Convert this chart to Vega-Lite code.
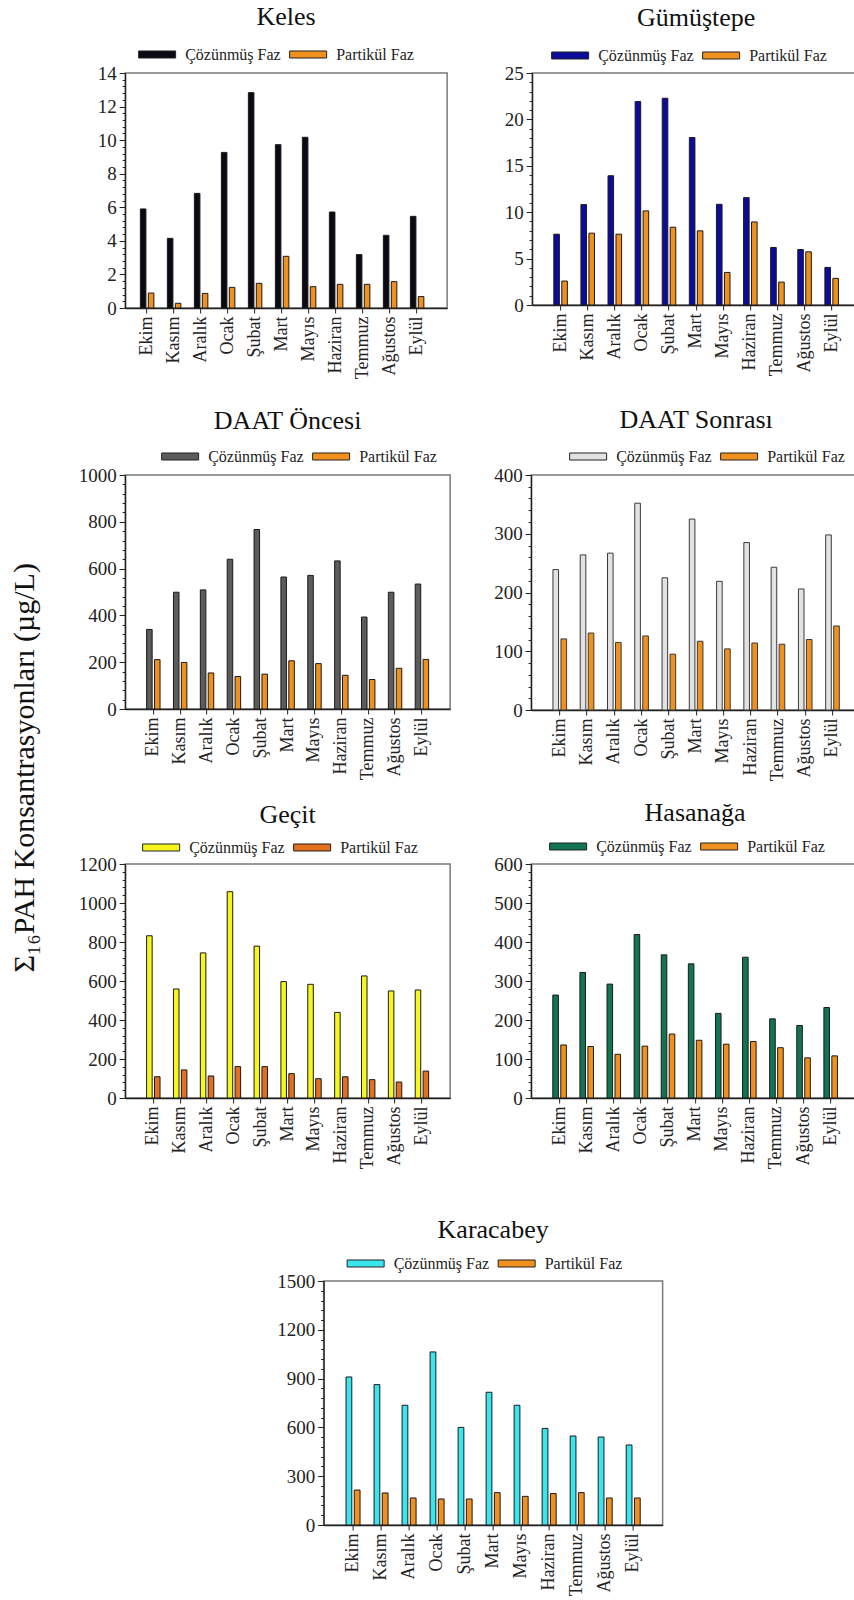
{
  "$schema": "https://vega.github.io/schema/vega-lite/v6.json",
  "background": "white",
  "padding": {"left": 10, "top": 3, "right": 0, "bottom": 0},
  "title": {
    "text": "Σ₁₆PAH Konsantrasyonları (µg/L)",
    "orient": "left",
    "anchor": "middle",
    "frame": "bounds",
    "fontSize": 30,
    "offset": 37,
    "dx": 32
  },
  "datasets": {
    "pah": [
      {"ist": "Keles", "ay": "Ekim", "faz": "Çözünmüş Faz", "deger": 5.9},
      {"ist": "Keles", "ay": "Kasım", "faz": "Çözünmüş Faz", "deger": 4.15},
      {"ist": "Keles", "ay": "Aralık", "faz": "Çözünmüş Faz", "deger": 6.83},
      {"ist": "Keles", "ay": "Ocak", "faz": "Çözünmüş Faz", "deger": 9.27},
      {"ist": "Keles", "ay": "Şubat", "faz": "Çözünmüş Faz", "deger": 12.83},
      {"ist": "Keles", "ay": "Mart", "faz": "Çözünmüş Faz", "deger": 9.73},
      {"ist": "Keles", "ay": "Mayıs", "faz": "Çözünmüş Faz", "deger": 10.17},
      {"ist": "Keles", "ay": "Haziran", "faz": "Çözünmüş Faz", "deger": 5.72},
      {"ist": "Keles", "ay": "Temmuz", "faz": "Çözünmüş Faz", "deger": 3.18},
      {"ist": "Keles", "ay": "Ağustos", "faz": "Çözünmüş Faz", "deger": 4.33},
      {"ist": "Keles", "ay": "Eylül", "faz": "Çözünmüş Faz", "deger": 5.46},
      {"ist": "Keles", "ay": "Ekim", "faz": "Partikül Faz", "deger": 0.89},
      {"ist": "Keles", "ay": "Kasım", "faz": "Partikül Faz", "deger": 0.28},
      {"ist": "Keles", "ay": "Aralık", "faz": "Partikül Faz", "deger": 0.87},
      {"ist": "Keles", "ay": "Ocak", "faz": "Partikül Faz", "deger": 1.23},
      {"ist": "Keles", "ay": "Şubat", "faz": "Partikül Faz", "deger": 1.47},
      {"ist": "Keles", "ay": "Mart", "faz": "Partikül Faz", "deger": 3.08},
      {"ist": "Keles", "ay": "Mayıs", "faz": "Partikül Faz", "deger": 1.27},
      {"ist": "Keles", "ay": "Haziran", "faz": "Partikül Faz", "deger": 1.41},
      {"ist": "Keles", "ay": "Temmuz", "faz": "Partikül Faz", "deger": 1.41},
      {"ist": "Keles", "ay": "Ağustos", "faz": "Partikül Faz", "deger": 1.57},
      {"ist": "Keles", "ay": "Eylül", "faz": "Partikül Faz", "deger": 0.68},

      {"ist": "Gümüştepe", "ay": "Ekim", "faz": "Çözünmüş Faz", "deger": 7.63},
      {"ist": "Gümüştepe", "ay": "Kasım", "faz": "Çözünmüş Faz", "deger": 10.82},
      {"ist": "Gümüştepe", "ay": "Aralık", "faz": "Çözünmüş Faz", "deger": 13.93},
      {"ist": "Gümüştepe", "ay": "Ocak", "faz": "Çözünmüş Faz", "deger": 21.92},
      {"ist": "Gümüştepe", "ay": "Şubat", "faz": "Çözünmüş Faz", "deger": 22.28},
      {"ist": "Gümüştepe", "ay": "Mart", "faz": "Çözünmüş Faz", "deger": 18.05},
      {"ist": "Gümüştepe", "ay": "Mayıs", "faz": "Çözünmüş Faz", "deger": 10.85},
      {"ist": "Gümüştepe", "ay": "Haziran", "faz": "Çözünmüş Faz", "deger": 11.57},
      {"ist": "Gümüştepe", "ay": "Temmuz", "faz": "Çözünmüş Faz", "deger": 6.2},
      {"ist": "Gümüştepe", "ay": "Ağustos", "faz": "Çözünmüş Faz", "deger": 5.98},
      {"ist": "Gümüştepe", "ay": "Eylül", "faz": "Çözünmüş Faz", "deger": 4.05},
      {"ist": "Gümüştepe", "ay": "Ekim", "faz": "Partikül Faz", "deger": 2.58},
      {"ist": "Gümüştepe", "ay": "Kasım", "faz": "Partikül Faz", "deger": 7.74},
      {"ist": "Gümüştepe", "ay": "Aralık", "faz": "Partikül Faz", "deger": 7.63},
      {"ist": "Gümüştepe", "ay": "Ocak", "faz": "Partikül Faz", "deger": 10.14},
      {"ist": "Gümüştepe", "ay": "Şubat", "faz": "Partikül Faz", "deger": 8.38},
      {"ist": "Gümüştepe", "ay": "Mart", "faz": "Partikül Faz", "deger": 7.99},
      {"ist": "Gümüştepe", "ay": "Mayıs", "faz": "Partikül Faz", "deger": 3.51},
      {"ist": "Gümüştepe", "ay": "Haziran", "faz": "Partikül Faz", "deger": 8.95},
      {"ist": "Gümüştepe", "ay": "Temmuz", "faz": "Partikül Faz", "deger": 2.47},
      {"ist": "Gümüştepe", "ay": "Ağustos", "faz": "Partikül Faz", "deger": 5.73},
      {"ist": "Gümüştepe", "ay": "Eylül", "faz": "Partikül Faz", "deger": 2.87},

      {"ist": "DAAT Öncesi", "ay": "Ekim", "faz": "Çözünmüş Faz", "deger": 340},
      {"ist": "DAAT Öncesi", "ay": "Kasım", "faz": "Çözünmüş Faz", "deger": 499},
      {"ist": "DAAT Öncesi", "ay": "Aralık", "faz": "Çözünmüş Faz", "deger": 509},
      {"ist": "DAAT Öncesi", "ay": "Ocak", "faz": "Çözünmüş Faz", "deger": 640},
      {"ist": "DAAT Öncesi", "ay": "Şubat", "faz": "Çözünmüş Faz", "deger": 767},
      {"ist": "DAAT Öncesi", "ay": "Mart", "faz": "Çözünmüş Faz", "deger": 564},
      {"ist": "DAAT Öncesi", "ay": "Mayıs", "faz": "Çözünmüş Faz", "deger": 571},
      {"ist": "DAAT Öncesi", "ay": "Haziran", "faz": "Çözünmüş Faz", "deger": 633},
      {"ist": "DAAT Öncesi", "ay": "Temmuz", "faz": "Çözünmüş Faz", "deger": 393},
      {"ist": "DAAT Öncesi", "ay": "Ağustos", "faz": "Çözünmüş Faz", "deger": 499},
      {"ist": "DAAT Öncesi", "ay": "Eylül", "faz": "Çözünmüş Faz", "deger": 534},
      {"ist": "DAAT Öncesi", "ay": "Ekim", "faz": "Partikül Faz", "deger": 211},
      {"ist": "DAAT Öncesi", "ay": "Kasım", "faz": "Partikül Faz", "deger": 199},
      {"ist": "DAAT Öncesi", "ay": "Aralık", "faz": "Partikül Faz", "deger": 154},
      {"ist": "DAAT Öncesi", "ay": "Ocak", "faz": "Partikül Faz", "deger": 139},
      {"ist": "DAAT Öncesi", "ay": "Şubat", "faz": "Partikül Faz", "deger": 149},
      {"ist": "DAAT Öncesi", "ay": "Mart", "faz": "Partikül Faz", "deger": 206},
      {"ist": "DAAT Öncesi", "ay": "Mayıs", "faz": "Partikül Faz", "deger": 194},
      {"ist": "DAAT Öncesi", "ay": "Haziran", "faz": "Partikül Faz", "deger": 144},
      {"ist": "DAAT Öncesi", "ay": "Temmuz", "faz": "Partikül Faz", "deger": 126},
      {"ist": "DAAT Öncesi", "ay": "Ağustos", "faz": "Partikül Faz", "deger": 174},
      {"ist": "DAAT Öncesi", "ay": "Eylül", "faz": "Partikül Faz", "deger": 212},

      {"ist": "DAAT Sonrası", "ay": "Ekim", "faz": "Çözünmüş Faz", "deger": 239},
      {"ist": "DAAT Sonrası", "ay": "Kasım", "faz": "Çözünmüş Faz", "deger": 264},
      {"ist": "DAAT Sonrası", "ay": "Aralık", "faz": "Çözünmüş Faz", "deger": 267},
      {"ist": "DAAT Sonrası", "ay": "Ocak", "faz": "Çözünmüş Faz", "deger": 352},
      {"ist": "DAAT Sonrası", "ay": "Şubat", "faz": "Çözünmüş Faz", "deger": 225},
      {"ist": "DAAT Sonrası", "ay": "Mart", "faz": "Çözünmüş Faz", "deger": 325},
      {"ist": "DAAT Sonrası", "ay": "Mayıs", "faz": "Çözünmüş Faz", "deger": 219},
      {"ist": "DAAT Sonrası", "ay": "Haziran", "faz": "Çözünmüş Faz", "deger": 285},
      {"ist": "DAAT Sonrası", "ay": "Temmuz", "faz": "Çözünmüş Faz", "deger": 243},
      {"ist": "DAAT Sonrası", "ay": "Ağustos", "faz": "Çözünmüş Faz", "deger": 206},
      {"ist": "DAAT Sonrası", "ay": "Eylül", "faz": "Çözünmüş Faz", "deger": 298},
      {"ist": "DAAT Sonrası", "ay": "Ekim", "faz": "Partikül Faz", "deger": 121},
      {"ist": "DAAT Sonrası", "ay": "Kasım", "faz": "Partikül Faz", "deger": 131},
      {"ist": "DAAT Sonrası", "ay": "Aralık", "faz": "Partikül Faz", "deger": 115},
      {"ist": "DAAT Sonrası", "ay": "Ocak", "faz": "Partikül Faz", "deger": 126},
      {"ist": "DAAT Sonrası", "ay": "Şubat", "faz": "Partikül Faz", "deger": 95},
      {"ist": "DAAT Sonrası", "ay": "Mart", "faz": "Partikül Faz", "deger": 117},
      {"ist": "DAAT Sonrası", "ay": "Mayıs", "faz": "Partikül Faz", "deger": 104},
      {"ist": "DAAT Sonrası", "ay": "Haziran", "faz": "Partikül Faz", "deger": 114},
      {"ist": "DAAT Sonrası", "ay": "Temmuz", "faz": "Partikül Faz", "deger": 112},
      {"ist": "DAAT Sonrası", "ay": "Ağustos", "faz": "Partikül Faz", "deger": 120},
      {"ist": "DAAT Sonrası", "ay": "Eylül", "faz": "Partikül Faz", "deger": 143},

      {"ist": "Geçit", "ay": "Ekim", "faz": "Çözünmüş Faz", "deger": 832},
      {"ist": "Geçit", "ay": "Kasım", "faz": "Çözünmüş Faz", "deger": 559},
      {"ist": "Geçit", "ay": "Aralık", "faz": "Çözünmüş Faz", "deger": 744},
      {"ist": "Geçit", "ay": "Ocak", "faz": "Çözünmüş Faz", "deger": 1058},
      {"ist": "Geçit", "ay": "Şubat", "faz": "Çözünmüş Faz", "deger": 779},
      {"ist": "Geçit", "ay": "Mart", "faz": "Çözünmüş Faz", "deger": 597},
      {"ist": "Geçit", "ay": "Mayıs", "faz": "Çözünmüş Faz", "deger": 583},
      {"ist": "Geçit", "ay": "Haziran", "faz": "Çözünmüş Faz", "deger": 439},
      {"ist": "Geçit", "ay": "Temmuz", "faz": "Çözünmüş Faz", "deger": 626},
      {"ist": "Geçit", "ay": "Ağustos", "faz": "Çözünmüş Faz", "deger": 549},
      {"ist": "Geçit", "ay": "Eylül", "faz": "Çözünmüş Faz", "deger": 554},
      {"ist": "Geçit", "ay": "Ekim", "faz": "Partikül Faz", "deger": 109},
      {"ist": "Geçit", "ay": "Kasım", "faz": "Partikül Faz", "deger": 144},
      {"ist": "Geçit", "ay": "Aralık", "faz": "Partikül Faz", "deger": 113},
      {"ist": "Geçit", "ay": "Ocak", "faz": "Partikül Faz", "deger": 161},
      {"ist": "Geçit", "ay": "Şubat", "faz": "Partikül Faz", "deger": 161},
      {"ist": "Geçit", "ay": "Mart", "faz": "Partikül Faz", "deger": 125},
      {"ist": "Geçit", "ay": "Mayıs", "faz": "Partikül Faz", "deger": 99},
      {"ist": "Geçit", "ay": "Haziran", "faz": "Partikül Faz", "deger": 109},
      {"ist": "Geçit", "ay": "Temmuz", "faz": "Partikül Faz", "deger": 94},
      {"ist": "Geçit", "ay": "Ağustos", "faz": "Partikül Faz", "deger": 82},
      {"ist": "Geçit", "ay": "Eylül", "faz": "Partikül Faz", "deger": 138},

      {"ist": "Hasanağa", "ay": "Ekim", "faz": "Çözünmüş Faz", "deger": 264},
      {"ist": "Hasanağa", "ay": "Kasım", "faz": "Çözünmüş Faz", "deger": 322},
      {"ist": "Hasanağa", "ay": "Aralık", "faz": "Çözünmüş Faz", "deger": 292},
      {"ist": "Hasanağa", "ay": "Ocak", "faz": "Çözünmüş Faz", "deger": 419},
      {"ist": "Hasanağa", "ay": "Şubat", "faz": "Çözünmüş Faz", "deger": 367},
      {"ist": "Hasanağa", "ay": "Mart", "faz": "Çözünmüş Faz", "deger": 344},
      {"ist": "Hasanağa", "ay": "Mayıs", "faz": "Çözünmüş Faz", "deger": 217},
      {"ist": "Hasanağa", "ay": "Haziran", "faz": "Çözünmüş Faz", "deger": 361},
      {"ist": "Hasanağa", "ay": "Temmuz", "faz": "Çözünmüş Faz", "deger": 203},
      {"ist": "Hasanağa", "ay": "Ağustos", "faz": "Çözünmüş Faz", "deger": 186},
      {"ist": "Hasanağa", "ay": "Eylül", "faz": "Çözünmüş Faz", "deger": 232},
      {"ist": "Hasanağa", "ay": "Ekim", "faz": "Partikül Faz", "deger": 136},
      {"ist": "Hasanağa", "ay": "Kasım", "faz": "Partikül Faz", "deger": 132},
      {"ist": "Hasanağa", "ay": "Aralık", "faz": "Partikül Faz", "deger": 112},
      {"ist": "Hasanağa", "ay": "Ocak", "faz": "Partikül Faz", "deger": 133},
      {"ist": "Hasanağa", "ay": "Şubat", "faz": "Partikül Faz", "deger": 164},
      {"ist": "Hasanağa", "ay": "Mart", "faz": "Partikül Faz", "deger": 148},
      {"ist": "Hasanağa", "ay": "Mayıs", "faz": "Partikül Faz", "deger": 138},
      {"ist": "Hasanağa", "ay": "Haziran", "faz": "Partikül Faz", "deger": 145},
      {"ist": "Hasanağa", "ay": "Temmuz", "faz": "Partikül Faz", "deger": 129},
      {"ist": "Hasanağa", "ay": "Ağustos", "faz": "Partikül Faz", "deger": 103},
      {"ist": "Hasanağa", "ay": "Eylül", "faz": "Partikül Faz", "deger": 108},

      {"ist": "Karacabey", "ay": "Ekim", "faz": "Çözünmüş Faz", "deger": 910},
      {"ist": "Karacabey", "ay": "Kasım", "faz": "Çözünmüş Faz", "deger": 863},
      {"ist": "Karacabey", "ay": "Aralık", "faz": "Çözünmüş Faz", "deger": 736},
      {"ist": "Karacabey", "ay": "Ocak", "faz": "Çözünmüş Faz", "deger": 1064},
      {"ist": "Karacabey", "ay": "Şubat", "faz": "Çözünmüş Faz", "deger": 600},
      {"ist": "Karacabey", "ay": "Mart", "faz": "Çözünmüş Faz", "deger": 816},
      {"ist": "Karacabey", "ay": "Mayıs", "faz": "Çözünmüş Faz", "deger": 736},
      {"ist": "Karacabey", "ay": "Haziran", "faz": "Çözünmüş Faz", "deger": 594},
      {"ist": "Karacabey", "ay": "Temmuz", "faz": "Çözünmüş Faz", "deger": 547},
      {"ist": "Karacabey", "ay": "Ağustos", "faz": "Çözünmüş Faz", "deger": 541},
      {"ist": "Karacabey", "ay": "Eylül", "faz": "Çözünmüş Faz", "deger": 492},
      {"ist": "Karacabey", "ay": "Ekim", "faz": "Partikül Faz", "deger": 215},
      {"ist": "Karacabey", "ay": "Kasım", "faz": "Partikül Faz", "deger": 197},
      {"ist": "Karacabey", "ay": "Aralık", "faz": "Partikül Faz", "deger": 166},
      {"ist": "Karacabey", "ay": "Ocak", "faz": "Partikül Faz", "deger": 160},
      {"ist": "Karacabey", "ay": "Şubat", "faz": "Partikül Faz", "deger": 160},
      {"ist": "Karacabey", "ay": "Mart", "faz": "Partikül Faz", "deger": 199},
      {"ist": "Karacabey", "ay": "Mayıs", "faz": "Partikül Faz", "deger": 176},
      {"ist": "Karacabey", "ay": "Haziran", "faz": "Partikül Faz", "deger": 193},
      {"ist": "Karacabey", "ay": "Temmuz", "faz": "Partikül Faz", "deger": 199},
      {"ist": "Karacabey", "ay": "Ağustos", "faz": "Partikül Faz", "deger": 166},
      {"ist": "Karacabey", "ay": "Eylül", "faz": "Partikül Faz", "deger": 166}
    ]
  },
  "data": {"name": "pah"},
  "spacing": 46,
  "center": true,
  "resolve": {"scale": {"x": "independent", "y": "independent", "xOffset": "independent", "color": "independent"}, "legend": {"color": "independent"}},
  "vconcat": [
    {
      "spacing": 17,
      "resolve": {"scale": {"x": "independent", "y": "independent", "xOffset": "independent", "color": "independent"}, "legend": {"color": "independent"}},
      "vconcat": [
        {
          "spacing": 26,
          "resolve": {"scale": {"x": "independent", "y": "independent", "xOffset": "independent", "color": "independent"}, "legend": {"color": "independent"}},
          "vconcat": [
            {
              "spacing": 55,
              "resolve": {"scale": {"x": "independent", "y": "independent", "xOffset": "independent", "color": "independent"}, "legend": {"color": "independent"}},
              "hconcat": [
                {
                  "width": 322, "height": 235,
                  "title": {"text": "Keles", "offset": 5.5},
                  "transform": [{"filter": "datum.ist === 'Keles'"}],
                  "mark": {"type": "bar", "stroke": "#1a1a1a", "strokeWidth": 1},
                  "encoding": {
                    "x": {"field": "ay", "type": "nominal", "title": null, "sort": ["Ekim","Kasım","Aralık","Ocak","Şubat","Mart","Mayıs","Haziran","Temmuz","Ağustos","Eylül"], "scale": {"paddingInner": 0.5, "paddingOuter": 0.713, "align": 0.396}},
                    "xOffset": {"field": "faz", "type": "nominal", "sort": ["Çözünmüş Faz", "Partikül Faz"], "scale": {"paddingInner": 0.3}},
                    "y": {"field": "deger", "type": "quantitative", "title": null, "scale": {"domain": [0, 14], "nice": false},
                      "axis": {"minExtent": 30, "values": [0,0.4,0.8,1.2,1.6,2,2.4,2.8,3.2,3.6,4,4.4,4.8,5.2,5.6,6,6.4,6.8,7.2,7.6,8,8.4,8.8,9.2,9.6,10,10.4,10.8,11.2,11.6,12,12.4,12.8,13.2,13.6,14],
                        "labelExpr": "datum.value % 2 === 0 ? datum.label : ''",
                        "tickSize": {"condition": {"test": "datum.value % 2 === 0", "value": 6}, "value": 3}}},
                    "color": {"field": "faz", "type": "nominal", "title": null, "scale": {"domain": ["Çözünmüş Faz", "Partikül Faz"], "range": ["#0a0a14", "#f0901e"]}, "legend": {"title": null, "legendX": 13, "legendY": -37.5}}
                  }
                },
                {
                  "width": 328, "height": 232,
                  "title": {"text": "Gümüştepe", "offset": 5.5},
                  "transform": [{"filter": "datum.ist === 'Gümüştepe'"}],
                  "mark": {"type": "bar", "stroke": "#1a1a1a", "strokeWidth": 1},
                  "encoding": {
                    "x": {"field": "ay", "type": "nominal", "title": null, "sort": ["Ekim","Kasım","Aralık","Ocak","Şubat","Mart","Mayıs","Haziran","Temmuz","Ağustos","Eylül"], "scale": {"paddingInner": 0.5, "paddingOuter": 0.8}},
                    "xOffset": {"field": "faz", "type": "nominal", "sort": ["Çözünmüş Faz", "Partikül Faz"], "scale": {"paddingInner": 0.3}},
                    "y": {"field": "deger", "type": "quantitative", "title": null, "scale": {"domain": [0, 25], "nice": false},
                      "axis": {"minExtent": 28, "values": [0,1,2,3,4,5,6,7,8,9,10,11,12,13,14,15,16,17,18,19,20,21,22,23,24,25],
                        "labelExpr": "datum.value % 5 === 0 ? datum.label : ''",
                        "tickSize": {"condition": {"test": "datum.value % 5 === 0", "value": 6}, "value": 3}}},
                    "color": {"field": "faz", "type": "nominal", "title": null, "scale": {"domain": ["Çözünmüş Faz", "Partikül Faz"], "range": ["#0c0c9c", "#f0901e"]}, "legend": {"title": null, "legendX": 19, "legendY": -36.5}}
                  }
                }
              ]
            },
            {
              "spacing": 41,
              "resolve": {"scale": {"x": "independent", "y": "independent", "xOffset": "independent", "color": "independent"}, "legend": {"color": "independent"}},
              "hconcat": [
                {
                  "width": 325, "height": 234,
                  "title": {"text": "DAAT Öncesi", "offset": 3.5},
                  "transform": [{"filter": "datum.ist === 'DAAT Öncesi'"}],
                  "mark": {"type": "bar", "stroke": "#1a1a1a", "strokeWidth": 1},
                  "encoding": {
                    "x": {"field": "ay", "type": "nominal", "title": null, "sort": ["Ekim","Kasım","Aralık","Ocak","Şubat","Mart","Mayıs","Haziran","Temmuz","Ağustos","Eylül"], "scale": {"paddingInner": 0.5, "paddingOuter": 0.8}},
                    "xOffset": {"field": "faz", "type": "nominal", "sort": ["Çözünmüş Faz", "Partikül Faz"], "scale": {"paddingInner": 0.3}},
                    "y": {"field": "deger", "type": "quantitative", "title": null, "scale": {"domain": [0, 1000], "nice": false},
                      "axis": {"minExtent": 46, "values": [0,40,80,120,160,200,240,280,320,360,400,440,480,520,560,600,640,680,720,760,800,840,880,920,960,1000],
                        "labelExpr": "datum.value % 200 === 0 ? datum.label : ''",
                        "tickSize": {"condition": {"test": "datum.value % 200 === 0", "value": 6}, "value": 3}}},
                    "color": {"field": "faz", "type": "nominal", "title": null, "scale": {"domain": ["Çözünmüş Faz", "Partikül Faz"], "range": ["#5c5c5c", "#f0901e"]}, "legend": {"title": null, "legendX": 36, "legendY": -37.5}}
                  }
                },
                {
                  "width": 330, "height": 235,
                  "title": {"text": "DAAT Sonrası", "offset": 4.5},
                  "transform": [{"filter": "datum.ist === 'DAAT Sonrası'"}],
                  "mark": {"type": "bar", "stroke": "#3a3a3a", "strokeWidth": 1},
                  "encoding": {
                    "x": {"field": "ay", "type": "nominal", "title": null, "sort": ["Ekim","Kasım","Aralık","Ocak","Şubat","Mart","Mayıs","Haziran","Temmuz","Ağustos","Eylül"], "scale": {"paddingInner": 0.5, "paddingOuter": 0.8}},
                    "xOffset": {"field": "faz", "type": "nominal", "sort": ["Çözünmüş Faz", "Partikül Faz"], "scale": {"paddingInner": 0.3}},
                    "y": {"field": "deger", "type": "quantitative", "title": null, "scale": {"domain": [0, 400], "nice": false},
                      "axis": {"minExtent": 35, "values": [0,20,40,60,80,100,120,140,160,180,200,220,240,260,280,300,320,340,360,380,400],
                        "labelExpr": "datum.value % 100 === 0 ? datum.label : ''",
                        "tickSize": {"condition": {"test": "datum.value % 100 === 0", "value": 6}, "value": 3}}},
                    "color": {"field": "faz", "type": "nominal", "title": null, "scale": {"domain": ["Çözünmüş Faz", "Partikül Faz"], "range": ["#e2e2e2", "#f0901e"]}, "legend": {"title": null, "legendX": 38, "legendY": -37.5}}
                  }
                }
              ]
            }
          ]
        },
        {
          "spacing": 41,
          "resolve": {"scale": {"x": "independent", "y": "independent", "xOffset": "independent", "color": "independent"}, "legend": {"color": "independent"}},
          "hconcat": [
            {
              "width": 325, "height": 234,
              "title": {"text": "Geçit", "offset": 0.5},
              "transform": [{"filter": "datum.ist === 'Geçit'"}],
              "mark": {"type": "bar", "stroke": "#1a1a1a", "strokeWidth": 1},
              "encoding": {
                "x": {"field": "ay", "type": "nominal", "title": null, "sort": ["Ekim","Kasım","Aralık","Ocak","Şubat","Mart","Mayıs","Haziran","Temmuz","Ağustos","Eylül"], "scale": {"paddingInner": 0.5, "paddingOuter": 0.8}},
                "xOffset": {"field": "faz", "type": "nominal", "sort": ["Çözünmüş Faz", "Partikül Faz"], "scale": {"paddingInner": 0.3}},
                "y": {"field": "deger", "type": "quantitative", "title": null, "scale": {"domain": [0, 1200], "nice": false},
                  "axis": {"minExtent": 44, "values": [0,40,80,120,160,200,240,280,320,360,400,440,480,520,560,600,640,680,720,760,800,840,880,920,960,1000,1040,1080,1120,1160,1200],
                    "labelExpr": "datum.value % 200 === 0 ? datum.label : ''",
                    "tickSize": {"condition": {"test": "datum.value % 200 === 0", "value": 6}, "value": 3}}},
                "color": {"field": "faz", "type": "nominal", "title": null, "scale": {"domain": ["Çözünmüş Faz", "Partikül Faz"], "range": ["#f6f61e", "#e2701e"]}, "legend": {"title": null, "legendX": 17, "legendY": -35.5}}
              }
            },
            {
              "width": 328, "height": 234,
              "title": {"text": "Hasanağa", "offset": 1.5},
              "transform": [{"filter": "datum.ist === 'Hasanağa'"}],
              "mark": {"type": "bar", "stroke": "#1a1a1a", "strokeWidth": 1},
              "encoding": {
                "x": {"field": "ay", "type": "nominal", "title": null, "sort": ["Ekim","Kasım","Aralık","Ocak","Şubat","Mart","Mayıs","Haziran","Temmuz","Ağustos","Eylül"], "scale": {"paddingInner": 0.5, "paddingOuter": 0.8}},
                "xOffset": {"field": "faz", "type": "nominal", "sort": ["Çözünmüş Faz", "Partikül Faz"], "scale": {"paddingInner": 0.3}},
                "y": {"field": "deger", "type": "quantitative", "title": null, "scale": {"domain": [0, 600], "nice": false},
                  "axis": {"minExtent": 38, "values": [0,20,40,60,80,100,120,140,160,180,200,220,240,260,280,300,320,340,360,380,400,420,440,460,480,500,520,540,560,580,600],
                    "labelExpr": "datum.value % 100 === 0 ? datum.label : ''",
                    "tickSize": {"condition": {"test": "datum.value % 100 === 0", "value": 6}, "value": 3}}},
                "color": {"field": "faz", "type": "nominal", "title": null, "scale": {"domain": ["Çözünmüş Faz", "Partikül Faz"], "range": ["#137355", "#f0901e"]}, "legend": {"title": null, "legendX": 18, "legendY": -36.5}}
              }
            }
          ]
        }
      ]
    },
    {
      "width": 339, "height": 244,
      "title": {"text": "Karacabey", "offset": 1.5},
      "transform": [{"filter": "datum.ist === 'Karacabey'"}],
      "mark": {"type": "bar", "stroke": "#1a1a1a", "strokeWidth": 1},
      "encoding": {
        "x": {"field": "ay", "type": "nominal", "title": null, "sort": ["Ekim","Kasım","Aralık","Ocak","Şubat","Mart","Mayıs","Haziran","Temmuz","Ağustos","Eylül"], "scale": {"paddingInner": 0.5, "paddingOuter": 0.8}},
        "xOffset": {"field": "faz", "type": "nominal", "sort": ["Çözünmüş Faz", "Partikül Faz"], "scale": {"paddingInner": 0.3}},
        "y": {"field": "deger", "type": "quantitative", "title": null, "scale": {"domain": [0, 1500], "nice": false},
          "axis": {"minExtent": 46, "values": [0,60,120,180,240,300,360,420,480,540,600,660,720,780,840,900,960,1020,1080,1140,1200,1260,1320,1380,1440,1500],
            "labelExpr": "datum.value % 300 === 0 ? datum.label : ''",
            "tickSize": {"condition": {"test": "datum.value % 300 === 0", "value": 6}, "value": 3}}},
        "color": {"field": "faz", "type": "nominal", "title": null, "scale": {"domain": ["Çözünmüş Faz", "Partikül Faz"], "range": ["#3ae6ee", "#f0901e"]}, "legend": {"title": null, "legendX": 23, "legendY": -36.5}}
      }
    }
  ],
  "config": {
    "font": "Liberation Serif",
    "view": {"stroke": "#7a7a7a", "strokeWidth": 1.5},
    "title": {"font": "Liberation Serif", "fontSize": 26, "fontWeight": "normal", "color": "#111111", "anchor": "middle", "frame": "group"},
    "axis": {
      "labelFont": "Liberation Serif",
      "labelFontSize": 19,
      "labelColor": "#222222",
      "domainColor": "#222222",
      "domainWidth": 1.3,
      "tickColor": "#222222",
      "tickWidth": 1,
      "grid": false,
      "labelOverlap": false,
      "labelFlush": false,
      "labelPadding": 3
    },
    "axisX": {"labelAngle": -90, "tickSize": 5, "labelPadding": 3, "labelFontSize": 18},
    "axisY": {"format": "d"},
    "legend": {
      "orient": "none",
      "direction": "horizontal",
      "labelFont": "Liberation Serif",
      "labelFontSize": 16,
      "labelColor": "#222222",
      "symbolType": "M-1,-0.19H1V0.19H-1Z",
      "symbolSize": 1369,
      "symbolStrokeColor": "#222222",
      "symbolStrokeWidth": 1,
      "symbolOpacity": 1,
      "labelOffset": 9,
      "columnPadding": 6
    }
  }
}
